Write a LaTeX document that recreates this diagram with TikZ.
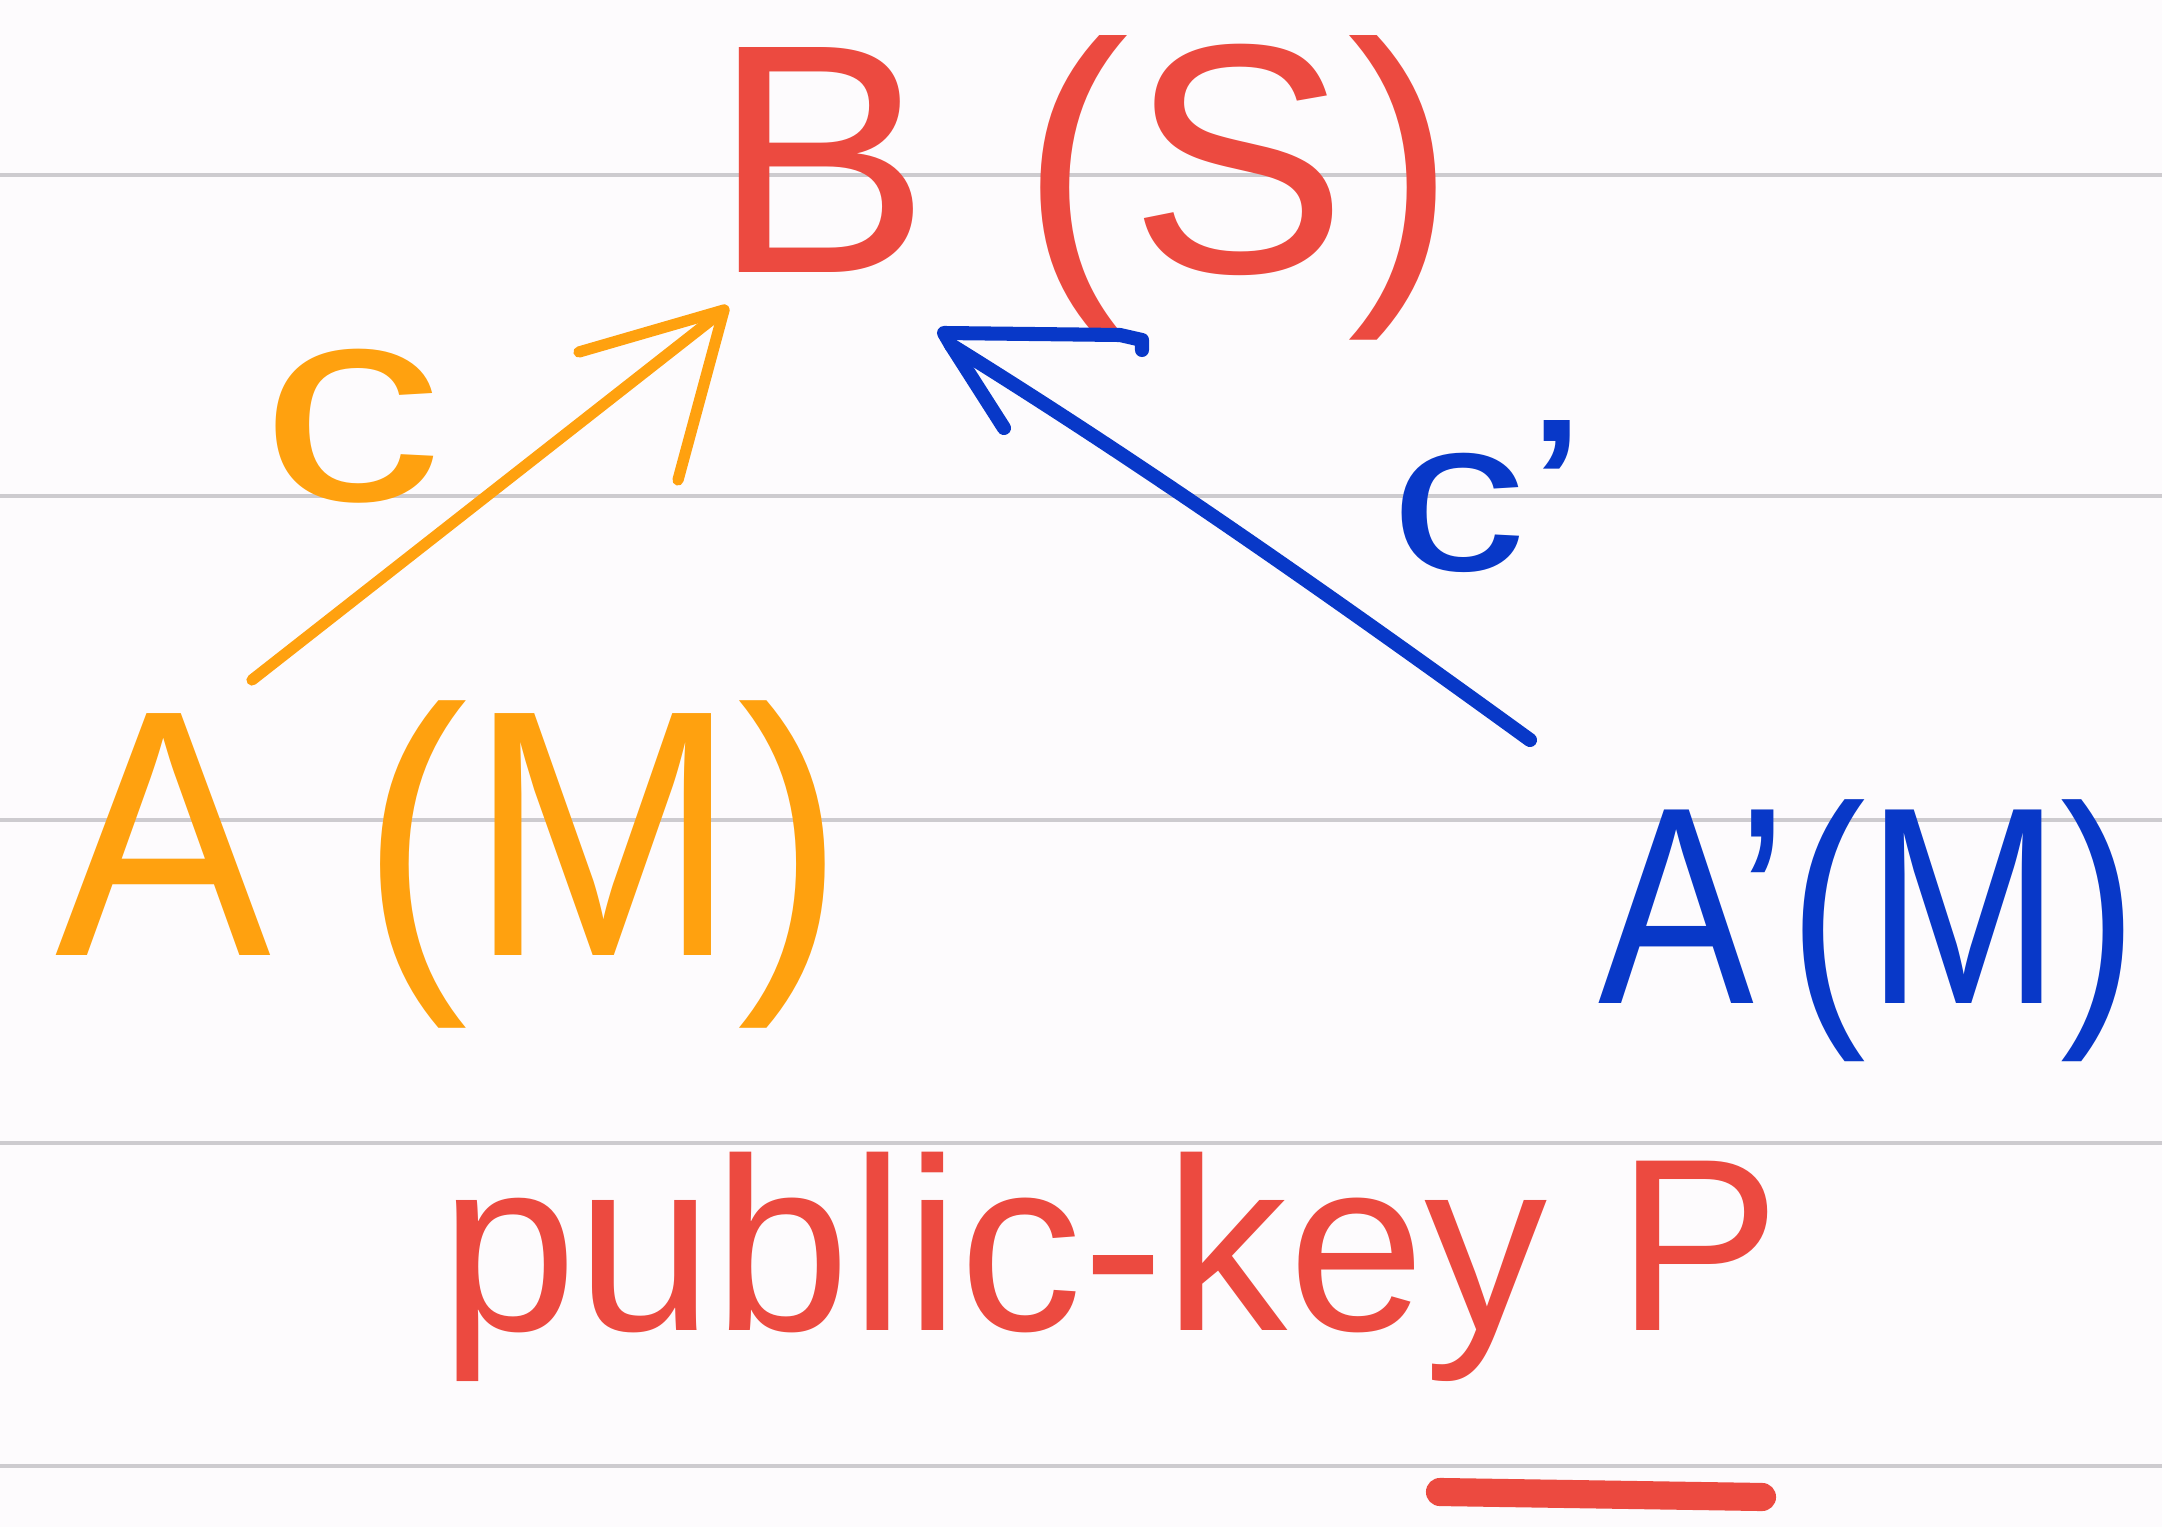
\documentclass[tikz,border=0pt]{standalone}
\usepackage{fontspec}
\setmainfont{Liberation Sans}
\definecolor{penred}{HTML}{EC4A40}
\definecolor{penorange}{HTML}{FFA10F}
\definecolor{penblue}{HTML}{0838C8}
\definecolor{paper}{HTML}{FDFBFD}
\definecolor{ruleline}{HTML}{CDCBCF}
\begin{document}
\begin{tikzpicture}[x=0.01cm,y=-0.01cm,
  ruled/.style={draw=ruleline,line width=1pt},
  txt/.style={inner sep=0pt,outer sep=0pt,anchor=base west},
  orangepen/.style={draw=penorange,line width=3.2pt,line cap=round,line join=round},
  bluepen/.style={draw=penblue,line width=4pt,line cap=round,line join=round}]
\fill[paper] (0,0) rectangle (2162,1527);
\useasboundingbox (0,0) rectangle (2162,1527);
\foreach \yy in {175,496,820,1143,1466} \draw[ruled] (0,\yy) -- (2162,\yy);
% texts
\node[txt,text=penred,font=\fontsize{93}{100}\selectfont] (B) at (712,272) {B (S)};
\node[txt,text=penorange,font=\fontsize{100}{110}\selectfont] (A) at (55,955) {\scalebox{0.92}[1]{A (M)}};
\node[txt,text=penblue,font=\fontsize{80}{90}\selectfont] (Ap) at (1598,1003) {\scalebox{0.83}[1]{A’(M)}};
\node[txt,text=penorange,font=\fontsize{80}{90}\selectfont,anchor=base] (c) at (352,500) {\scalebox{1.3}[1]{c}};
\node[txt,text=penblue,font=\fontsize{62}{70}\selectfont] (cp) at (1390,570) {\scalebox{1.25}[1]{c’}};
\node[txt,text=penred,font=\fontsize{70}{80}\selectfont] (pk) at (440,1330) {public-key P};
% underline of P
\draw[penred,line width=8pt,line cap=round] (1440,1492) -- (1762,1497);
% orange arrow A -> B
\coordinate (atail) at (252,680);
\coordinate (atip) at (724,310);
\coordinate (abarbL) at (579,352);
\coordinate (abarbR) at (678,480);
\draw[orangepen] (atail) -- (atip);
\draw[orangepen] (abarbL) -- (atip) -- (abarbR);
% blue arrow A' -> B
\coordinate (btail) at (1530,740);
\coordinate (btip) at (951,345);
\coordinate (bbarbT) at (1142,340);
\coordinate (bbarbB) at (1004,428);
\draw[bluepen] (btail) .. controls (1330,595) and (1140,462) .. (btip);
\draw[bluepen] (bbarbB) -- (btip) -- (944,333) -- (1120,335) -- (bbarbT) -- (1142,350);
\end{tikzpicture}
\end{document}
